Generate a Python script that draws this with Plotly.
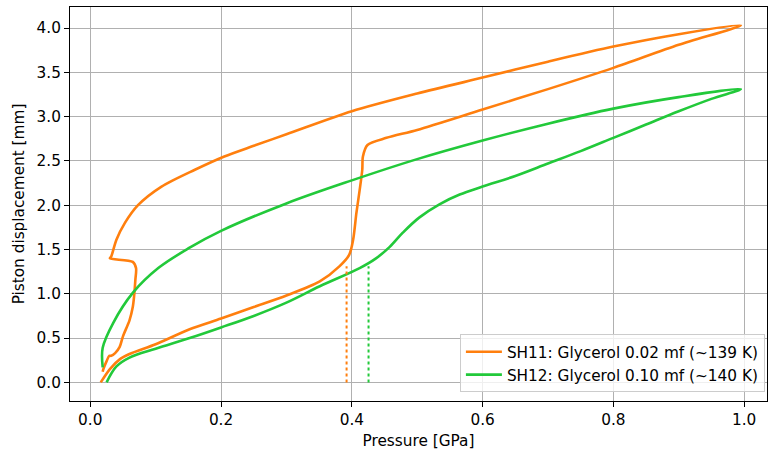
import plotly.graph_objects as go

# SH11 (orange): loading branch then unloading branch
sh11_p = [0.016, 0.030, 0.045, 0.060, 0.100, 0.152, 0.200, 0.250, 0.300, 0.351, 0.381, 0.396,
          0.402, 0.407, 0.412, 0.416, 0.417, 0.424, 0.453, 0.500, 0.600, 0.700, 0.800, 0.900, 0.995,
          0.900, 0.800, 0.700, 0.600, 0.500, 0.400, 0.300, 0.250, 0.205, 0.160, 0.109, 0.073,
          0.053, 0.040, 0.032, 0.030, 0.065, 0.070, 0.069, 0.067, 0.065, 0.060, 0.050,
          0.045, 0.038, 0.032, 0.029, 0.025, 0.020, 0.019]
sh11_d = [0.00, 0.15, 0.26, 0.32, 0.43, 0.60, 0.72, 0.85, 0.98, 1.14, 1.31, 1.44,
          1.61, 1.91, 2.17, 2.40, 2.55, 2.68, 2.76, 2.85, 3.08, 3.31, 3.55, 3.81, 4.03,
          3.93, 3.79, 3.62, 3.44, 3.26, 3.06, 2.80, 2.67, 2.55, 2.40, 2.21, 2.00,
          1.80, 1.61, 1.42, 1.40, 1.36, 1.29, 1.16, 0.97, 0.85, 0.70, 0.52,
          0.40, 0.33, 0.30, 0.30, 0.24, 0.15, 0.12]

# SH12 (green)
sh12_p = [0.025, 0.040, 0.060, 0.100, 0.152, 0.200, 0.250, 0.300, 0.351, 0.412, 0.437, 0.458,
          0.478, 0.503, 0.534, 0.565, 0.600, 0.650, 0.700, 0.750, 0.800, 0.850, 0.900, 0.950, 0.995,
          0.900, 0.800, 0.700, 0.600, 0.500, 0.400, 0.300,
          0.200, 0.152, 0.104, 0.065, 0.035, 0.019, 0.019]
sh12_d = [0.00, 0.18, 0.28, 0.38, 0.50, 0.62, 0.75, 0.90, 1.085, 1.29, 1.40, 1.53,
          1.69, 1.86, 2.01, 2.12, 2.21, 2.33, 2.47, 2.61, 2.76, 2.91, 3.06, 3.20, 3.31,
          3.22, 3.09, 2.92, 2.73, 2.52, 2.28, 2.02,
          1.71, 1.52, 1.29, 1.01, 0.67, 0.39, 0.17]

# transition markers (dotted)
mark_p = [0.392, 0.4256]
mark_top = 1.31

orange = "#ff7f0e"
green = "#22c93a"
FONT = "DejaVu Sans"
FS = 15.3

fig = go.Figure()
fig.add_trace(go.Scatter(x=sh11_p, y=sh11_d, mode="lines",
                         line=dict(color=orange, width=2.6, shape="spline", smoothing=0.8),
                         name="SH11: Glycerol 0.02 mf (~139 K)"))
fig.add_trace(go.Scatter(x=sh12_p, y=sh12_d, mode="lines",
                         line=dict(color=green, width=2.6, shape="spline", smoothing=1.0),
                         name="SH12: Glycerol 0.10 mf (~140 K)"))
for xp, c in zip(mark_p, [orange, green]):
    fig.add_trace(go.Scatter(x=[xp, xp], y=[0, mark_top], mode="lines",
                             line=dict(color=c, width=2, dash="dot"), showlegend=False))

axis_common = dict(showgrid=True, gridcolor="#b0b0b0", gridwidth=1, zeroline=False,
                   showline=True, linecolor="black", linewidth=1, mirror=True,
                   ticks="outside", ticklen=5, tickcolor="black",
                   tickfont=dict(family=FONT, size=FS, color="black"))

fig.update_xaxes(range=[-0.031, 1.035], tickvals=[0, 0.2, 0.4, 0.6, 0.8, 1.0],
                 ticktext=["0.0", "0.2", "0.4", "0.6", "0.8", "1.0"],
                 title=dict(text="Pressure [GPa]", font=dict(family=FONT, size=FS, color="black"),
                            standoff=6),
                 **axis_common)
fig.update_yaxes(range=[-0.21, 4.237], tickvals=[0, 0.5, 1, 1.5, 2, 2.5, 3, 3.5, 4],
                 ticktext=["0.0", "0.5", "1.0", "1.5", "2.0", "2.5", "3.0", "3.5", "4.0"],
                 title=dict(text="Piston displacement [mm]", font=dict(family=FONT, size=FS, color="black"),
                            standoff=8),
                 **axis_common)

fig.update_layout(
    width=768, height=450,
    margin=dict(l=70, r=1, t=7, b=49),
    plot_bgcolor="white", paper_bgcolor="white",
    showlegend=True,
    legend=dict(x=0.997, y=0.022, xanchor="right", yanchor="bottom",
                bgcolor="rgba(255,255,255,0.8)", bordercolor="#cccccc", borderwidth=1,
                font=dict(family=FONT, size=FS, color="black"),
                tracegroupgap=0, itemwidth=36),
)

fig.write_html("out.html")
